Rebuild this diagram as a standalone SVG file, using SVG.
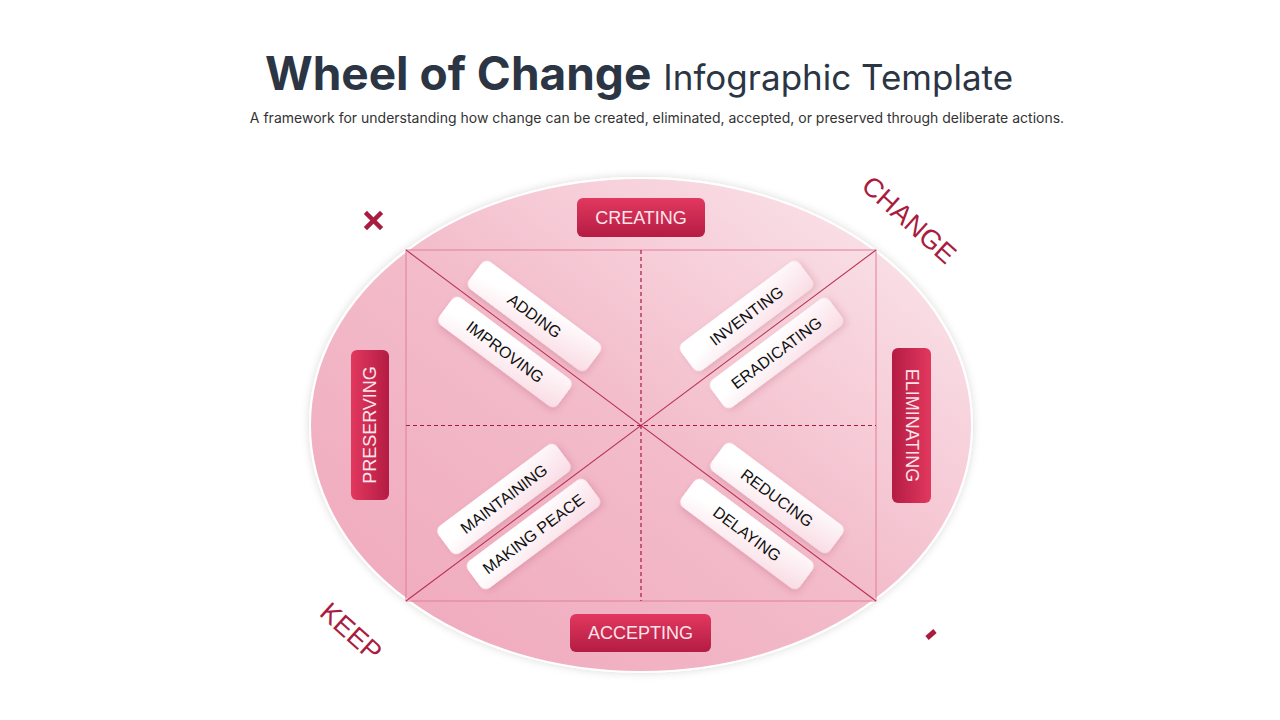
<svg xmlns="http://www.w3.org/2000/svg" width="1280" height="720" viewBox="0 0 1280 720">
<defs>
<linearGradient id="gEll" x1="0.1" y1="0.9" x2="0.9" y2="0.1">
<stop offset="0" stop-color="#f0abbe"/>
<stop offset="0.5" stop-color="#f3bccb"/>
<stop offset="1" stop-color="#fae2e8"/>
</linearGradient>
<linearGradient id="gRed" x1="0" y1="0" x2="0" y2="1">
<stop offset="0" stop-color="#e2385f"/>
<stop offset="1" stop-color="#b41c43"/>
</linearGradient>
<linearGradient id="gPill" x1="0" y1="0" x2="1" y2="1">
<stop offset="0.3" stop-color="#ffffff"/>
<stop offset="1" stop-color="#f9dbe4"/>
</linearGradient>
<filter id="fEll" x="-10%" y="-10%" width="120%" height="120%">
<feDropShadow dx="0" dy="0" stdDeviation="4" flood-color="#000" flood-opacity="0.15"/>
</filter>
<filter id="fPill" x="-20%" y="-40%" width="140%" height="180%">
<feDropShadow dx="2" dy="3" stdDeviation="3" flood-color="#a0304f" flood-opacity="0.2"/>
</filter>
<style>
.pill{fill:url(#gPill);filter:url(#fPill)}
.ptx{font-family:"Liberation Sans",Arial,sans-serif;font-size:16px;fill:#111;text-anchor:middle;dominant-baseline:central}
.red{fill:url(#gRed)}
.rtx{font-family:"Liberation Sans",Arial,sans-serif;font-size:18px;fill:#fde4ea;text-anchor:middle;dominant-baseline:central}
.big{font-family:"Liberation Sans",Arial,sans-serif;font-size:27px;fill:#a91c3f;text-anchor:middle;dominant-baseline:central}
</style>
</defs>
<rect width="1280" height="720" fill="#ffffff"/>
<g id="title">
<text x="639" y="90" text-anchor="middle" font-family="Inter, 'Liberation Sans', sans-serif" fill="#2b3544"><tspan font-size="46" font-weight="700">Wheel of Change</tspan><tspan font-size="35" font-weight="400" dx="12">Infographic Template</tspan></text>
<text x="657" y="123" text-anchor="middle" font-family="Inter, 'Liberation Sans', sans-serif" font-size="14" fill="#333333">A framework for understanding how change can be created, eliminated, accepted, or preserved through deliberate actions.</text>
</g>
<g id="wheel">
<ellipse cx="641" cy="425" rx="331" ry="247" fill="url(#gEll)" stroke="#ffffff" stroke-width="2" filter="url(#fEll)"/>
</g>
<g id="connectors" fill="none">
<rect x="406" y="250" width="470" height="351" stroke="#e27f99" stroke-width="1"/>
<line x1="406" y1="250" x2="876" y2="601" stroke="#b83352" stroke-width="1.1"/>
<line x1="876" y1="250" x2="406" y2="601" stroke="#b83352" stroke-width="1.1"/>
<line x1="406" y1="425.5" x2="876" y2="425.5" stroke="#a81a42" stroke-width="1.2" stroke-dasharray="4 3"/>
<line x1="641" y1="250" x2="641" y2="601" stroke="#a81a42" stroke-width="1.2" stroke-dasharray="4 3"/>
</g>
<g id="creating"><rect class="red" x="577" y="198" width="128" height="39" rx="6"/><text class="rtx" x="641" y="218">CREATING</text></g>
<g id="accepting"><rect class="red" x="570" y="614" width="141" height="38" rx="6"/><text class="rtx" x="640.5" y="633">ACCEPTING</text></g>
<g id="preserving" transform="translate(370 425) rotate(-90)"><rect class="red" x="-75" y="-19" width="150" height="38" rx="6"/><text class="rtx" x="0" y="0">PRESERVING</text></g>
<g id="eliminating" transform="translate(911.5 425.5) rotate(90)"><rect class="red" x="-77.5" y="-19.5" width="155" height="39" rx="6"/><text class="rtx" x="0" y="0">ELIMINATING</text></g>
<g id="adding" transform="translate(534.5 316) rotate(36.75)"><rect class="pill" x="-74" y="-17" width="148" height="34" rx="7"/><text class="ptx" x="0" y="0">ADDING</text></g>
<g id="improving" transform="translate(505 352) rotate(36.75)"><rect class="pill" x="-74" y="-17" width="148" height="34" rx="7"/><text class="ptx" x="0" y="0">IMPROVING</text></g>
<g id="inventing" transform="translate(746.5 316) rotate(-36.75)"><rect class="pill" x="-74" y="-17" width="148" height="34" rx="7"/><text class="ptx" x="0" y="0">INVENTING</text></g>
<g id="eradicating" transform="translate(776.5 353) rotate(-36.75)"><rect class="pill" x="-74" y="-17" width="148" height="34" rx="7"/><text class="ptx" x="0" y="0">ERADICATING</text></g>
<g id="maintaining" transform="translate(504 499) rotate(-36.75)"><rect class="pill" x="-74" y="-17" width="148" height="34" rx="7"/><text class="ptx" x="0" y="0">MAINTAINING</text></g>
<g id="making-peace" transform="translate(533.5 534) rotate(-36.75)"><rect class="pill" x="-74" y="-17" width="148" height="34" rx="7"/><text class="ptx" x="0" y="0">MAKING PEACE</text></g>
<g id="reducing" transform="translate(777 498) rotate(36.75)"><rect class="pill" x="-74" y="-17" width="148" height="34" rx="7"/><text class="ptx" x="0" y="0">REDUCING</text></g>
<g id="delaying" transform="translate(747 534) rotate(36.75)"><rect class="pill" x="-74" y="-17" width="148" height="34" rx="7"/><text class="ptx" x="0" y="0">DELAYING</text></g>
<g id="change"><text class="big" transform="translate(909 220) rotate(42)">CHANGE</text></g>
<g id="keep"><text class="big" transform="translate(351 632) rotate(42)">KEEP</text></g>
<g id="x-icon" stroke="#a91c3f" stroke-width="4.5" stroke-linecap="square"><line x1="367" y1="214" x2="380" y2="227"/><line x1="380" y1="214" x2="367" y2="227"/></g>
<g id="dash-icon"><line x1="927" y1="638" x2="935" y2="631" stroke="#a91c3f" stroke-width="5" stroke-linecap="butt"/></g>
</svg>
